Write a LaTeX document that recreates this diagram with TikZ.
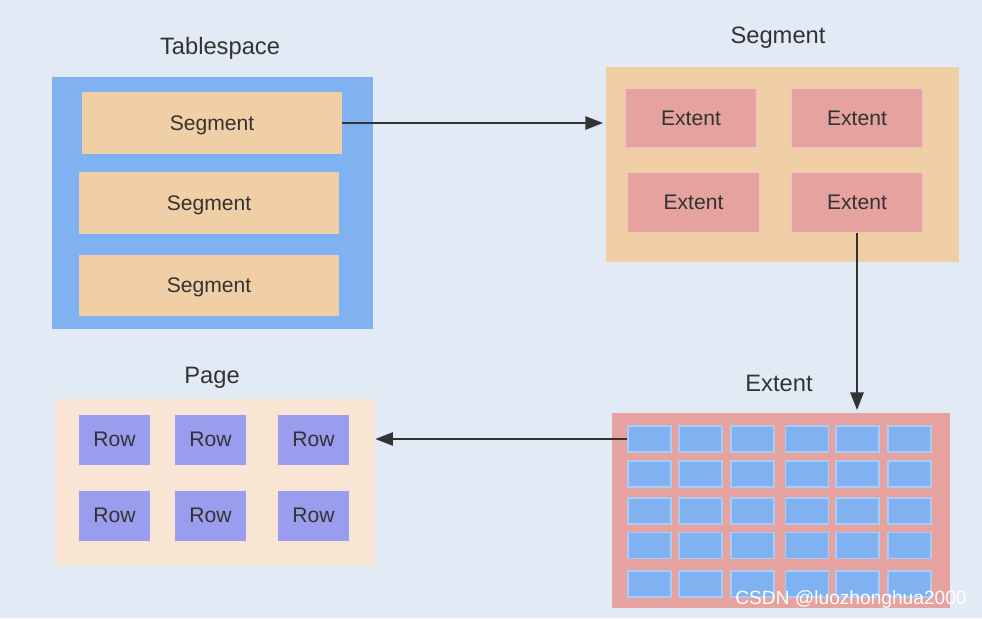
\documentclass[tikz,border=0pt]{standalone}
\usepackage{fontspec}
\setmainfont{Liberation Sans}
\usetikzlibrary{positioning, arrows.meta}

\definecolor{bgcol}{HTML}{E2EAF5}
\definecolor{tblblue}{HTML}{80B1F0}
\definecolor{segcol}{HTML}{F1CFA6}
\definecolor{extcol}{HTML}{E5A29E}
\definecolor{extline}{HTML}{F3C3BE}
\definecolor{cellline}{HTML}{A8CCF5}
\definecolor{pagecol}{HTML}{F8E5D3}
\definecolor{rowcol}{HTML}{9A9CEE}
\definecolor{txtcol}{HTML}{333333}

\begin{document}
\begin{tikzpicture}[
	x=0.02cm, y=-0.02cm,
	every node/.style={text=txtcol, text depth=0pt},
	title/.style={font=\fontsize{13.5}{16}\selectfont},
	container/.style={rectangle, inner sep=0pt},
	segbox/.style={rectangle, fill=segcol, minimum width=5.2cm, minimum height=1.24cm, font=\fontsize{12}{14}\selectfont},
	extbox/.style={rectangle, fill=extcol, draw=extline, line width=0.8pt, minimum width=2.64cm, minimum height=1.2cm, font=\fontsize{12}{14}\selectfont},
	cellbox/.style={rectangle, fill=tblblue, draw=cellline, line width=0.8pt, minimum width=0.86cm, minimum height=0.52cm, inner sep=0pt},
	rowbox/.style={rectangle, fill=rowcol, minimum width=1.42cm, minimum height=1.0cm, font=\fontsize{12}{14}\selectfont},
	arrow/.style={-{Triangle[length=10pt, width=7.5pt]}, line width=1.1pt, draw=txtcol}
	]
	
	% Background
	\fill[bgcol] (0,0) rectangle (982,618);
	\useasboundingbox (0,0) rectangle (982,618);
	
	% Tablespace
	\node[container, fill=tblblue, minimum width=6.42cm, minimum height=5.04cm] (tablespace) at (212.5,203) {};
	\node[title] (tbltitle) at (220,46) {Tablespace};
	\node[segbox] (seg1) at (212,123) {Segment};
	\node[segbox] (seg2) at (209,203) {Segment};
	\node[segbox] (seg3) at (209,285.5) {Segment};
	
	% Segment
	\node[container, fill=segcol, minimum width=7.06cm, minimum height=3.9cm] (segment) at (782.5,164.5) {};
	\node[title] (segtitle) at (778,35) {Segment};
	\node[extbox] (ext1) at (691,118) {Extent};
	\node[extbox] (ext2) at (857,118) {Extent};
	\node[extbox] (ext3) at (693.5,202.5) {Extent};
	\node[extbox] (ext4) at (857,202.5) {Extent};
	
	% Extent
	\node[container, fill=extcol, minimum width=6.76cm, minimum height=3.9cm] (extent) at (781,510.5) {};
	\node[title] (exttitle) at (779,383) {Extent};
	\foreach \cx [count=\i] in {649.5,700.5,752.5,807,857.5,909.5}
		\foreach \cy [count=\j] in {439,474,511,545.5,584}
			\node[cellbox] (cell\j\i) at (\cx,\cy) {};
	
	% Page
	\node[container, fill=pagecol, minimum width=6.4cm, minimum height=3.34cm] (page) at (215,482.5) {};
	\node[title] (pagetitle) at (212,375) {Page};
	\foreach \rx [count=\i] in {114.5,210.5,313.5}
		\foreach \ry [count=\j] in {439.5,515.5}
			\node[rowbox] (row\j\i) at (\rx,\ry) {Row};
	
	% Arrows
	\draw[arrow, shorten >=1.5pt] (seg1.east) -- (seg1.east -| segment.west);
	\draw[arrow, shorten >=1.5pt] (ext4.south) -- (ext4.south |- extent.north);
	\draw[arrow] (cell11.west) -- (cell11.west -| page.east);
	
	% Watermark
	\node[text=white, font=\fontsize{10.9}{13}\selectfont] (mark) at (851,598) {CSDN @luozhonghua2000};
	
\end{tikzpicture}
\end{document}
